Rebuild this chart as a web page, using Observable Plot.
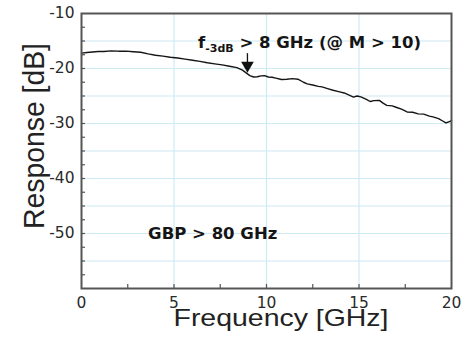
<!DOCTYPE html>
<html><head><meta charset="utf-8">
<script src="https://cdn.jsdelivr.net/npm/d3@7"></script>
<script src="https://cdn.jsdelivr.net/npm/@observablehq/plot@0.6"></script>
<style>body{margin:0;background:#fff;}</style>
</head><body><div id="chart"></div>
<script>
const frequency = [0.0,0.3,0.6,0.9,1.2,1.6,2.0,2.4,2.8,3.2,3.6,4.0,4.4,4.8,5.2,5.6,6.0,6.4,6.8,7.2,7.6,8.0,8.4,8.7,8.9,9.1,9.3,9.5,9.7,9.9,10.1,10.3,10.5,10.8,11.1,11.4,11.7,12.0,12.2,12.5,12.8,13.0,13.3,13.6,13.9,14.2,14.5,14.7,14.9,15.1,15.4,15.6,15.8,16.1,16.3,16.5,16.8,17.0,17.3,17.6,17.9,18.2,18.5,18.8,19.0,19.3,19.5,19.7,19.85,20.0];
const response = [-17.2,-17.1,-17.0,-16.9,-16.9,-16.8,-16.85,-16.85,-16.95,-17.05,-17.35,-17.6,-17.75,-17.95,-18.1,-18.3,-18.5,-18.7,-18.95,-19.15,-19.35,-19.6,-19.85,-20.3,-20.8,-21.3,-21.55,-21.5,-21.35,-21.3,-21.55,-21.6,-21.75,-22.0,-21.95,-21.85,-21.95,-22.5,-22.8,-23.0,-23.25,-23.35,-23.65,-23.95,-24.2,-24.45,-24.9,-25.2,-25.0,-25.15,-25.6,-26.0,-25.85,-25.8,-26.3,-26.7,-26.8,-27.05,-27.4,-27.9,-27.95,-28.25,-28.3,-28.65,-28.8,-29.1,-29.5,-29.9,-29.7,-29.5];

const xTicks = [0, 5, 10, 15, 20];
const yTicks = [-10, -20, -30, -40, -50];
const xGrid = [5, 10, 15];
const yGrid = [-15, -20, -25, -30, -35, -40, -45, -50, -55];
const xMinor = [2.5, 5, 7.5, 10, 12.5, 15, 17.5];
const yMinor = [-12.5, -15, -17.5, -20, -22.5, -25, -27.5, -30, -32.5, -35, -37.5, -40, -42.5, -45, -47.5, -50, -52.5, -55, -57.5];

const xLabel = "Frequency [GHz]";
const yLabel = "Response [dB]";

const noteText = ["f-3dB > 8 GHz (@ M > 10)", "GBP > 80 GHz"];
const noteX = [6.3, 3.6];
const noteY = [-15.3, -50];

const arrowX = [8.97];
const arrowFrom = [-17.3];
const arrowTo = [-19.3];
const arrowHead = [-19.45];

const curve = frequency.map((f, i) => ({f, r: response[i]}));
const notes = noteText.map((t, i) => ({t, x: noteX[i], y: noteY[i]}));
const arrows = arrowX.map((x, i) => ({x, y1: arrowFrom[i], y2: arrowTo[i], yh: arrowHead[i]}));

const chart = Plot.plot({
  width: 470,
  height: 340,
  marginLeft: 81,
  marginRight: 19,
  marginTop: 13,
  marginBottom: 52,
  x: {domain: [0, 20]},
  y: {domain: [-60, -10]},
  style: {fontFamily: "DejaVu Sans", fontSize: "15.5px", color: "#2a2a2a", background: "white"},
  marks: [
    Plot.gridX(xGrid, {stroke: "#cdeaf5", strokeOpacity: 1, strokeWidth: 1.2}),
    Plot.gridY(yGrid, {stroke: "#cdeaf5", strokeOpacity: 1, strokeWidth: 1.2}),
    Plot.tickX(xMinor, {x: d => d, stroke: "#555", strokeWidth: 1.2, insetTop: 271}),
    Plot.tickY(yMinor, {y: d => d, stroke: "#555", strokeWidth: 1.2, insetRight: 366}),
    Plot.line(curve, {x: "f", y: "r", stroke: "#151515", strokeWidth: 1.4}),
    Plot.ruleX(arrows, {x: "x", y1: "y1", y2: "y2", stroke: "#111", strokeWidth: 1.3}),
    Plot.dot(arrows, {x: "x", y: "yh", symbol: "triangle", rotate: 180, r: 4.7, fill: "#111", stroke: null}),
    Plot.text(notes, {x: "x", y: "y", text: "t", textAnchor: "start", lineAnchor: "middle", fontWeight: "bold", fontSize: 16.5, fontFamily: "DejaVu Sans", fill: "#151515"}),
    Plot.frame({stroke: "#555", strokeWidth: 2}),
    Plot.axisX(xTicks, {tickSize: 0, tickPadding: 8, tickFormat: d => String(d), label: null}),
    Plot.axisY(yTicks, {tickSize: 0, tickPadding: 7, tickFormat: d => String(d), label: null}),
    Plot.text([xLabel], {text: d => d, frameAnchor: "bottom", textAnchor: "middle", dx: 14.5, dy: 37.5, lineAnchor: "bottom", fontSize: 24, fontFamily: "Liberation Sans", fill: "#222"}),
    Plot.text([yLabel], {text: d => d, frameAnchor: "left", textAnchor: "middle", rotate: -90, dx: -38, dy: -15, lineAnchor: "bottom", fontSize: 29, fontFamily: "Liberation Sans", fill: "#222"})
  ]
});

document.getElementById("chart").appendChild(chart);

d3.select(chart).selectAll("text").each(function () {
  const t = this.textContent;
  if (t === xLabel) {
    this.setAttribute("textLength", 215);
    this.setAttribute("lengthAdjust", "spacingAndGlyphs");
  } else if (t === yLabel) {
    this.setAttribute("textLength", 186);
    this.setAttribute("lengthAdjust", "spacingAndGlyphs");
  } else if (t === noteText[0]) {
    const sel = d3.select(this);
    sel.text(null);
    sel.append("tspan").text("f");
    sel.append("tspan").attr("font-size", 11).attr("dy", 4).text("-3dB");
    sel.append("tspan").attr("dy", -4).text(" > 8 GHz (@ M > 10)");
  }
});
</script>
</body></html>
